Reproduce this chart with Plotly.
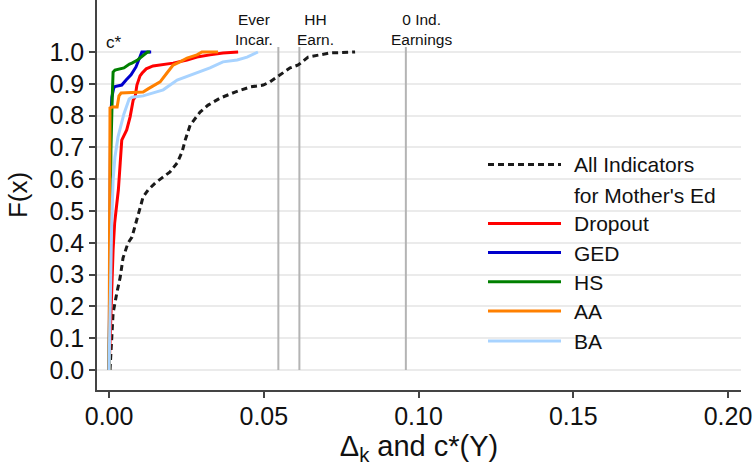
import plotly.graph_objects as go

# ---- data ----
all_x = [0.0003,0.0009,0.0013,0.0025,0.0036,0.0045,0.0061,0.0074,0.0090,0.0100,0.0110,0.0126,0.0149,0.0171,0.0197,0.0220,0.0236,0.0246,0.0262,0.0294,0.0320,0.0359,0.0407,0.0456,0.0498,0.0520,0.0553,0.0585,0.0611,0.0643,0.0714,0.0795]
all_y = [0.0,0.094,0.179,0.242,0.292,0.352,0.399,0.418,0.472,0.513,0.544,0.566,0.588,0.604,0.623,0.651,0.686,0.723,0.770,0.811,0.833,0.855,0.874,0.890,0.896,0.906,0.928,0.950,0.959,0.984,0.997,1.0]

dropout_x = [0.0,0.0003,0.0009,0.0013,0.0018,0.0024,0.0030,0.0036,0.0041,0.0057,0.0068,0.0078,0.0084,0.0090,0.0100,0.0107,0.0120,0.0142,0.0165,0.0207,0.0252,0.0284,0.0326,0.0368,0.0417]
dropout_y = [0.0,0.094,0.252,0.377,0.462,0.513,0.566,0.651,0.723,0.755,0.796,0.849,0.858,0.896,0.925,0.934,0.947,0.956,0.959,0.965,0.975,0.984,0.991,0.997,1.0]

ged_x = [0.0,0.0001,0.0002,0.0005,0.0009,0.0015,0.0019,0.0041,0.0055,0.0071,0.0087,0.0095,0.0106,0.0136]
ged_y = [0.0,0.220,0.535,0.786,0.858,0.887,0.891,0.896,0.912,0.928,0.953,0.975,1.0,1.0]

hs_x = [0.0,0.0003,0.0006,0.0010,0.0013,0.0019,0.0048,0.0066,0.0074,0.0092,0.0111,0.0124,0.0132]
hs_y = [0.0,0.377,0.692,0.849,0.937,0.943,0.950,0.962,0.965,0.975,0.991,1.0,1.0]

aa_x = [0.0,0.0001,0.0002,0.0003,0.0010,0.0026,0.0032,0.0039,0.0073,0.0110,0.0126,0.0149,0.0165,0.0187,0.0207,0.0229,0.0252,0.0284,0.0300,0.0352]
aa_y = [0.0,0.535,0.755,0.824,0.827,0.827,0.862,0.871,0.873,0.874,0.884,0.896,0.906,0.934,0.959,0.969,0.981,0.991,1.0,1.0]

ba_x = [0.0,0.0003,0.0008,0.0013,0.0019,0.0029,0.0041,0.0048,0.0065,0.0074,0.0110,0.0142,0.0175,0.0220,0.0262,0.0304,0.0326,0.0368,0.0414,0.0446,0.0481]
ba_y = [0.0,0.220,0.440,0.597,0.670,0.733,0.777,0.805,0.852,0.858,0.862,0.871,0.881,0.912,0.928,0.943,0.950,0.969,0.975,0.984,1.0]

series_names = ["Dropout", "GED", "HS", "AA", "BA"]
series_colors = ["#ff0000", "#0000cc", "#008000", "#ff8000", "#a8d3ff"]
all_label = ["All Indicators", "for Mother's Ed"]

cutoff_x = [0.0547, 0.0615, 0.0959]
cutoff_label_x = [0.0469, 0.0666, 0.1010]
cutoff_labels = ["Ever<br>Incar.", "HH<br>Earn.", "0 Ind.<br>Earnings"]

x_ticks = [0.0, 0.05, 0.10, 0.15, 0.20]
x_ticktext = ["0.00", "0.05", "0.10", "0.15", "0.20"]
y_ticks = [0.0, 0.1, 0.2, 0.3, 0.4, 0.5, 0.6, 0.7, 0.8, 0.9, 1.0]
y_ticktext = ["0.0", "0.1", "0.2", "0.3", "0.4", "0.5", "0.6", "0.7", "0.8", "0.9", "1.0"]

FONT = "Liberation Sans, Arial, sans-serif"

fig = go.Figure()

# vertical cutoff lines
for cx in cutoff_x:
    fig.add_trace(go.Scatter(x=[cx, cx], y=[0.0, 1.016], mode="lines",
                             line=dict(color="#b4b4b4", width=2), showlegend=False,
                             hoverinfo="skip"))

fig.add_trace(go.Scatter(x=all_x, y=all_y, mode="lines", name="All Indicators",
                         line=dict(color="#1a1a1a", width=3, dash="6px,4px"), showlegend=False))

series_x = [dropout_x, ged_x, hs_x, aa_x, ba_x]
series_y = [dropout_y, ged_y, hs_y, aa_y, ba_y]
for nm, col, sx, sy in zip(series_names, series_colors, series_x, series_y):
    fig.add_trace(go.Scatter(x=sx, y=sy, mode="lines", name=nm,
                             line=dict(color=col, width=3), showlegend=False))

annotations = []
# c* label
annotations.append(dict(x=0.0016, y=1.031, xref="x", yref="y", text="c*", showarrow=False,
                        font=dict(family=FONT, size=17, color="#111"), xanchor="center", yanchor="middle"))
for lx, t in zip(cutoff_label_x, cutoff_labels):
    annotations.append(dict(x=lx, y=1.0715, xref="x", yref="y", text=t, showarrow=False,
                            font=dict(family=FONT, size=15.5, color="#111"),
                            xanchor="center", yanchor="middle"))

# custom legend (paper coords); plot area spans px 97..741 horizontally, 0..390 vertically
def px2paper_x(px):
    return (px - 97) / 644.0

def py2paper_y(py):
    return (390 - py) / 390.0

shapes = []
leg_rows_text = [164.5, 195, 224, 253, 282.3, 311.5, 341.5]
leg_rows_line = [164.5, None, 223.5, 252.5, 281.8, 311, 341]
leg_texts = all_label + series_names
leg_styles = [("#1a1a1a", "6px,4px"), None] + [(c, "solid") for c in series_colors]
for tpy, lpy, txt, sty in zip(leg_rows_text, leg_rows_line, leg_texts, leg_styles):
    annotations.append(dict(x=px2paper_x(572), y=py2paper_y(tpy), xref="paper", yref="paper",
                            text=txt, showarrow=False, xanchor="left", yanchor="middle",
                            font=dict(family=FONT, size=21, color="#111")))
    if sty is not None:
        shapes.append(dict(type="line", xref="paper", yref="paper",
                           x0=px2paper_x(488), x1=px2paper_x(561),
                           y0=py2paper_y(lpy), y1=py2paper_y(lpy),
                           line=dict(color=sty[0], width=3, dash=sty[1])))

fig.update_layout(
    width=755, height=467,
    margin=dict(l=97, r=14, t=0, b=77),
    paper_bgcolor="white", plot_bgcolor="white",
    font=dict(family=FONT, color="#111"),
    annotations=annotations, shapes=shapes,
    showlegend=False,
)
fig.update_xaxes(range=[-0.0039, 0.2042], tickvals=x_ticks, ticktext=x_ticktext,
                 showgrid=False, zeroline=False, showline=True, linecolor="#444", linewidth=1.5,
                 ticks="outside", ticklen=6, tickcolor="#444", tickwidth=1.5,
                 tickfont=dict(family=FONT, size=25, color="#111"), ticklabelstandoff=-3,
                 title=dict(text="Δ<sub>k</sub> and c*(Y)", font=dict(family=FONT, size=29, color="#111"),
                            standoff=6),
                 automargin=False)
fig.update_yaxes(range=[-0.0629, 1.1635], tickvals=y_ticks, ticktext=y_ticktext,
                 showgrid=True, gridcolor="#ebebeb", gridwidth=1.5, zeroline=False,
                 showline=True, linecolor="#444", linewidth=1.5,
                 ticks="outside", ticklen=6, tickcolor="#444", tickwidth=1.5,
                 tickfont=dict(family=FONT, size=25, color="#111"),
                 title=dict(text="F(x)", font=dict(family=FONT, size=26, color="#111"), standoff=14),
                 automargin=False)

fig.write_html("out.html")
